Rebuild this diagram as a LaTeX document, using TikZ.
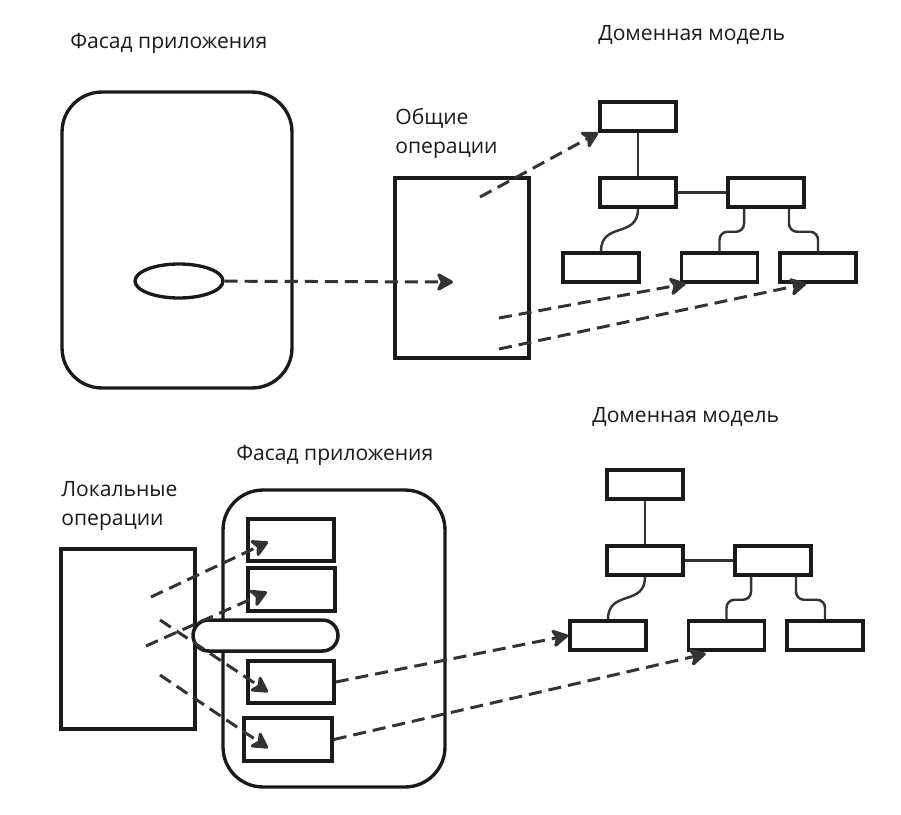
\documentclass[tikz,border=0pt]{standalone}
\usepackage{fontspec}
\setmainfont{Open Sans}
\usetikzlibrary{arrows.meta,positioning,shapes.geometric,calc}
\definecolor{Ink}{HTML}{1A1A1A}
\definecolor{Dash}{HTML}{333333}

\begin{document}
\begin{tikzpicture}[x=0.02cm,y=-0.02cm,
    ent/.style={draw=Ink,line width=2pt,minimum width=1.52cm,minimum height=0.58cm,
      inner sep=0pt},
    ops/.style={draw=Ink,line width=2pt,inner sep=0pt},
    facade/.style={draw=Ink,line width=1.9pt,rounded corners=0.8cm,inner sep=0pt},
    link/.style={draw=Dash,line width=1.4pt},
    call/.style={draw=Dash,line width=1.7pt,dash pattern=on 7.4pt off 4pt,
      -{Stealth[length=0.38cm,width=0.42cm,inset=0.1cm,round]}},
    caption/.style={font=\fontsize{12pt}{16.5pt}\selectfont,align=left,anchor=west,
      inner sep=0pt,text=Ink}
  ]
    \useasboundingbox (0,0) rectangle (901,814);

    % upper half
    \node[caption] (tf) at (70,43) {Фасад приложения};
    \node[caption] (td) at (598,35) {Доменная модель};
    \node[caption] (tg) at (395,133) {Общие\\операции};
    \node[facade,minimum width=4.6cm,minimum height=5.92cm] (f1) at (177,240) {};
    \node[ellipse,draw=Ink,line width=1.9pt,minimum width=1.76cm,minimum height=0.68cm,
      inner sep=0pt] (el) at (179,281) {};
    \node[ops,minimum width=2.68cm,minimum height=3.6cm] (gops) at (462,268) {};

    % both domain models
    \foreach \m/\ox/\oy in {t/0/0,b/7/368} {
      \begin{scope}[shift={(\ox,\oy)}]
        \foreach \n/\x/\y in {1/638/116.5,2/638/192.5,3/766/192.5,4/601/267.5,
            5/719.5/267.5,6/818/267.5}
          \node[ent] (\m\n) at (\x,\y) {};
        \draw[link] (\m1) -- (\m2);
        \draw[link] (\m2) -- (\m3);
        \draw[link] (\m2.south) .. controls +(0,30) and +(0,-30) .. (\m4.north);
        \draw[link,rounded corners=0.16cm] ([xshift=-0.44cm]\m3.south) -- ++(0,23) -| (\m5.north);
        \draw[link,rounded corners=0.16cm] ([xshift=0.46cm]\m3.south) -- ++(0,23) -| (\m6.north);
      \end{scope}
    }

    \coordinate (c0) at (453,282);
    \draw[call] (el) -- (c0);
    \coordinate (g1) at (480,197);
    \coordinate (g2) at (499,318);
    \coordinate (g3) at (499,349);
    \draw[call] (g1) -- (t1.south west);
    \draw[call] (g2) -- ($(t5.south west)+(6,0)$);
    \draw[call] (g3) -- ($(t6.south west)+(28,0)$);

    % lower half
    \node[caption] (bd) at (592,417) {Доменная модель};
    \node[caption] (bf) at (236,455) {Фасад приложения};
    \node[caption] (bl) at (61,506) {Локальные\\операции};
    \node[ops,minimum width=2.68cm,minimum height=3.6cm] (lops) at (128,639) {};
    \node[facade,minimum width=4.44cm,minimum height=5.94cm] (f2) at (334,638.5) {};
    \node[ops,minimum width=1.72cm,minimum height=0.84cm] (fa) at (291,540) {};
    \node[ops,minimum width=1.74cm,minimum height=0.86cm] (fb) at (291.5,589.5) {};
    \node[ops,minimum width=1.72cm,minimum height=0.84cm] (fc) at (291,682) {};
    \node[ops,minimum width=1.76cm,minimum height=0.86cm] (fd) at (288,739.5) {};
    \node[ops,fill=white,rounded corners=0.31cm,minimum width=2.9cm,minimum height=0.62cm]
      (pill) at (265.5,635.5) {};

    \foreach \i/\sx/\sy/\ex/\ey in {1/151/597/268/542,2/146/646/267/592,
        3/160/620/268/692,4/160/675/268/748} {
      \coordinate (s\i) at (\sx,\sy);
      \coordinate (e\i) at (\ex,\ey);
      \draw[call] (s\i) -- (e\i);
    }
    \draw[call] (fc.east) -- (b4.west);
    \draw[call] (fd.east) -- ($(b5.south west)+(19,2)$);
\end{tikzpicture}
\end{document}
